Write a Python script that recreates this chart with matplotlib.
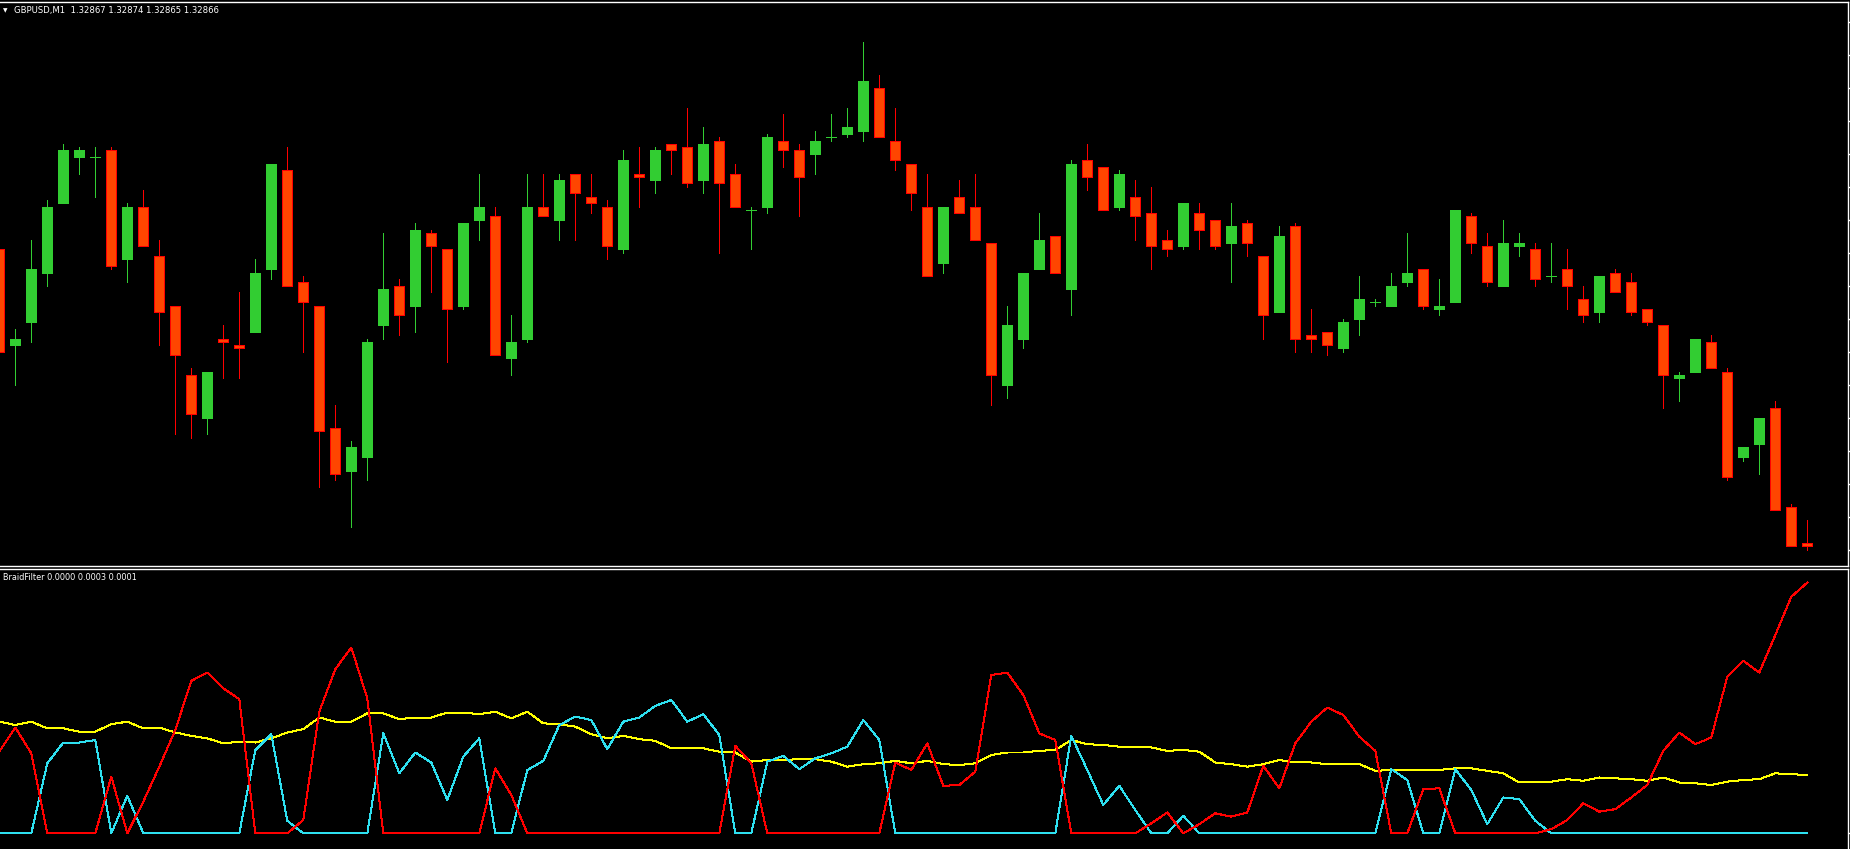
import matplotlib
matplotlib.use("Agg")
import matplotlib.pyplot as plt
import numpy as np

# ---------------- data ----------------
symbol_label = "GBPUSD,M1"
last_ohlc_text = ["1.32867", "1.32874", "1.32865", "1.32866"]
indicator_name = "BraidFilter"
indicator_values_text = ["0.0000", "0.0003", "0.0001"]

# prices in points (1 point = 0.00001)
open_pts = [
    132956, 132927, 132934, 132949, 132970, 132984, 132984, 132986, 132953, 132969,
    132954, 132939, 132918, 132905, 132929, 132927, 132931, 132950, 132980, 132946,
    132939, 132902, 132889, 132893, 132933, 132945, 132939, 132961, 132956, 132939,
    132965, 132966, 132923, 132929, 132969, 132965, 132979, 132972, 132969, 132956,
    132979, 132977, 132988, 132987, 132977, 132989, 132979, 132968, 132969, 132989,
    132986, 132985, 132990, 132991, 132992, 133005, 132989, 132982, 132969, 132952,
    132972, 132969, 132958, 132915, 132929, 132950, 132960, 132944, 132983, 132981,
    132969, 132972, 132967, 132959, 132957, 132967, 132965, 132958, 132964, 132954,
    132937, 132963, 132930, 132931, 132926, 132935, 132940, 132939, 132946, 132950,
    132938, 132940, 132966, 132957, 132945, 132957, 132956, 132948, 132950, 132941,
    132937, 132949, 132946, 132938, 132933, 132917, 132919, 132928, 132919, 132893,
    132897, 132908, 132878, 132867,
]
high_pts = [
    132956, 132932, 132959, 132971, 132988, 132987, 132987, 132987, 132970, 132974,
    132959, 132939, 132920, 132919, 132933, 132943, 132953, 132982, 132987, 132948,
    132939, 132909, 132898, 132929, 132961, 132947, 132964, 132962, 132956, 132964,
    132979, 132969, 132936, 132979, 132979, 132979, 132979, 132979, 132971, 132986,
    132987, 132987, 132988, 132999, 132993, 132990, 132982, 132969, 132991, 132997,
    132988, 132992, 132997, 132999, 133019, 133009, 132999, 132982, 132979, 132969,
    132977, 132979, 132958, 132939, 132949, 132967, 132960, 132983, 132988, 132981,
    132980, 132977, 132975, 132962, 132970, 132970, 132965, 132970, 132965, 132954,
    132963, 132964, 132938, 132931, 132935, 132948, 132941, 132949, 132961, 132950,
    132947, 132968, 132967, 132961, 132965, 132961, 132958, 132958, 132956, 132945,
    132948, 132950, 132949, 132938, 132933, 132919, 132929, 132930, 132920, 132896,
    132905, 132910, 132879, 132874,
]
low_pts = [
    132925, 132915, 132928, 132945, 132970, 132979, 132972, 132950, 132946, 132957,
    132927, 132900, 132899, 132900, 132917, 132917, 132931, 132947, 132945, 132925,
    132884, 132886, 132872, 132886, 132929, 132930, 132931, 132943, 132922, 132938,
    132959, 132924, 132918, 132928, 132966, 132959, 132959, 132967, 132953, 132955,
    132969, 132973, 132979, 132975, 132973, 132955, 132969, 132956, 132967, 132981,
    132966, 132979, 132989, 132990, 132989, 132990, 132980, 132968, 132948, 132949,
    132967, 132959, 132909, 132911, 132926, 132950, 132949, 132936, 132974, 132968,
    132968, 132959, 132950, 132954, 132956, 132956, 132956, 132946, 132954, 132929,
    132937, 132925, 132925, 132924, 132925, 132930, 132939, 132939, 132945, 132938,
    132936, 132940, 132955, 132945, 132945, 132954, 132945, 132946, 132938, 132934,
    132934, 132943, 132936, 132933, 132908, 132910, 132919, 132920, 132886, 132892,
    132888, 132877, 132866, 132865,
]
close_pts = [
    132925, 132929, 132950, 132969, 132986, 132986, 132984, 132951, 132969, 132957,
    132937, 132924, 132906, 132919, 132928, 132926, 132949, 132982, 132945, 132940,
    132901, 132888, 132896, 132928, 132944, 132936, 132962, 132957, 132938, 132964,
    132969, 132924, 132928, 132969, 132966, 132977, 132973, 132970, 132957, 132983,
    132978, 132986, 132986, 132976, 132988, 132976, 132969, 132968, 132990, 132986,
    132978, 132989, 132990, 132993, 133007, 132990, 132983, 132973, 132948, 132969,
    132967, 132959, 132918, 132933, 132949, 132959, 132949, 132982, 132978, 132968,
    132979, 132966, 132957, 132956, 132970, 132962, 132957, 132963, 132958, 132936,
    132960, 132929, 132929, 132927, 132934, 132941, 132940, 132945, 132949, 132939,
    132939, 132968, 132958, 132946, 132958, 132958, 132947, 132948, 132945, 132936,
    132948, 132943, 132937, 132934, 132918, 132918, 132929, 132920, 132887, 132896,
    132905, 132877, 132866, 132866,
]

# BraidFilter buffers, in points
braid_red = [
    9.8, 12.7, 9.6, 0, 0, 0, 0, 6.8, 0, 3.8,
    8.0, 12.4, 18.3, 19.3, 17.4, 16.1, 0, 0, 0, 1.6,
    14.6, 19.7, 22.3, 16.2, 0, 0, 0, 0, 0, 0,
    0, 7.8, 4.6, 0, 0, 0, 0, 0, 0, 0,
    0, 0, 0, 0, 0, 0, 10.5, 8.4, 0, 0,
    0, 0, 0, 0, 0, 0, 8.5, 7.6, 10.8, 5.7,
    5.8, 7.4, 19.0, 19.3, 16.6, 12.0, 11.2, 0, 0, 0,
    0, 0, 1.2, 2.5, 0, 1.1, 2.4, 2.0, 2.5, 8.1,
    5.4, 10.8, 13.4, 15.1, 14.2, 11.6, 9.9, 0, 0, 5.3,
    5.4, 0, 0, 0, 0, 0, 0, 0.5, 1.6, 3.6,
    2.6, 2.9, 4.3, 5.8, 9.9, 12.1, 10.7, 11.5, 18.8, 20.7,
    19.3, 23.8, 28.4, 30.1,
]
braid_cyan = [
    0, 0, 0, 8.4, 10.9, 10.9, 11.2, 0, 4.5, 0,
    0, 0, 0, 0, 0, 0, 10.0, 11.9, 1.5, 0,
    0, 0, 0, 0, 12.0, 7.2, 9.7, 8.5, 4.0, 9.2,
    11.4, 0, 0, 7.6, 8.7, 13.0, 14.0, 13.6, 10.1, 13.4,
    13.9, 15.3, 16.0, 13.4, 14.3, 11.8, 0, 0, 8.6, 9.3,
    7.7, 9.0, 9.6, 10.4, 13.6, 11.2, 0, 0, 0, 0,
    0, 0, 0, 0, 0, 0, 0, 11.7, 7.6, 3.4,
    5.7, 2.8, 0, 0, 2.1, 0, 0, 0, 0, 0,
    0, 0, 0, 0, 0, 0, 0, 7.7, 6.4, 0,
    0, 7.7, 5.2, 1.1, 4.3, 4.1, 1.5, 0, 0, 0,
    0, 0, 0, 0, 0, 0, 0, 0, 0, 0,
    0, 0, 0, 0,
]
braid_yellow = [
    13.4, 13.0, 13.4, 12.6, 12.6, 12.2, 12.2, 13.1, 13.4, 12.6,
    12.7, 12.1, 11.7, 11.4, 10.8, 11.0, 10.9, 11.4, 12.1, 12.5,
    13.9, 13.4, 13.4, 14.4, 14.4, 13.7, 13.9, 13.9, 14.5, 14.5,
    14.3, 14.6, 13.8, 14.6, 13.2, 13.1, 12.8, 11.9, 11.4, 11.7,
    11.3, 11.1, 10.2, 10.2, 10.2, 9.8, 9.7, 8.6, 8.8, 8.8,
    8.9, 8.9, 8.6, 8.0, 8.3, 8.4, 8.7, 8.4, 8.7, 8.3,
    8.2, 8.4, 9.4, 9.7, 9.7, 9.9, 10.0, 11.2, 10.7, 10.6,
    10.4, 10.4, 10.3, 9.9, 10.0, 9.8, 8.5, 8.3, 8.0, 8.3,
    8.8, 8.5, 8.5, 8.3, 8.3, 8.3, 7.5, 7.6, 7.6, 7.6,
    7.6, 7.8, 7.8, 7.5, 7.2, 6.1, 6.1, 6.2, 6.5, 6.3,
    6.7, 6.6, 6.5, 6.3, 6.7, 6.1, 6.0, 5.8, 6.2, 6.4,
    6.5, 7.2, 7.1, 7.0,
]

# ---------------- styling ----------------
W, H = 1850, 849
BG = "#000000"
FG = "#FFFFFF"
BULL_FILL = "#32CD32"
BULL_EDGE = "#32CD32"
BEAR_FILL = "#FF4500"
BEAR_EDGE = "#FF0000"
PX = 0.72  # one pixel in points at dpi 100

POINT = 1e-5
o = np.array(open_pts) * POINT
h = np.array(high_pts) * POINT
l = np.array(low_pts) * POINT
c = np.array(close_pts) * POINT
x = np.arange(len(o))

fig = plt.figure(figsize=(W / 100, H / 100), dpi=100, facecolor=BG)


def fx(px):
    return px / W


def fy(py):
    return 1 - py / H


# main price pane
top_py, bot_py, right_px = 2, 566, 1848
ax = fig.add_axes([0, fy(bot_py), fx(right_px), (bot_py - top_py) / H])
ax.set_facecolor(BG)

# bar spacing: 16 px per bar, bar 0 centred at x = -0.7 px
ax.set_xlim(0.7 / 16, (right_px + 0.7) / 16)
price_per_px = POINT / 3.3
ref_price = 1.32866
ref_py = 546.5
ax.set_ylim(ref_price - (bot_py - ref_py) * price_per_px,
            ref_price + (ref_py - top_py) * price_per_px)

bull = c >= o
wick_colors = np.where(bull, BULL_EDGE, BEAR_EDGE)
ax.vlines(x, l, h, colors=wick_colors, linewidth=PX, zorder=2, antialiased=False)

body_w = 0.64
bottoms = np.minimum(o, c)
heights = np.abs(c - o)
ax.bar(x[bull], heights[bull], bottom=bottoms[bull], width=body_w,
       color=BULL_FILL, edgecolor=BULL_EDGE, linewidth=PX, zorder=3, antialiased=False)
ax.bar(x[~bull], heights[~bull], bottom=bottoms[~bull], width=body_w,
       color=BEAR_FILL, edgecolor=BEAR_EDGE, linewidth=PX, zorder=3, antialiased=False)

ax.spines["left"].set_visible(False)
for side in ["top", "right", "bottom"]:
    ax.spines[side].set_color(FG)
    ax.spines[side].set_linewidth(1.4 * PX)

ax.set_xticks([])
price_ticks = [1.32865 + 0.0001 * k for k in range(17)]
ax.set_yticks(price_ticks)
ax.yaxis.tick_right()
ax.tick_params(axis="y", direction="out", length=2 * PX, width=1.4 * PX,
               colors=FG, labelright=False, labelleft=False)

# indicator pane
ind_top_py = 569
ax2 = fig.add_axes([0, 0, fx(right_px), (H - ind_top_py) / H])
ax2.set_facecolor(BG)
ax2.set_xlim(ax.get_xlim())
zero_py = 833.3
val_per_px = POINT / 8.33
ax2.set_ylim(-(H - zero_py) * val_per_px, (zero_py - ind_top_py) * val_per_px)

xi = np.arange(len(braid_red))
ax2.plot(xi, np.array(braid_yellow) * POINT, color="#FFFF00", linewidth=PX,
         antialiased=False, zorder=2)
ax2.plot(xi, np.array(braid_cyan) * POINT, color="#2EE0F0", linewidth=PX,
         antialiased=False, zorder=3)
ax2.plot(xi, np.array(braid_red) * POINT, color="#FF0000", linewidth=PX,
         antialiased=False, zorder=4)

for side in ["left", "bottom"]:
    ax2.spines[side].set_visible(False)
for side in ["top", "right"]:
    ax2.spines[side].set_color(FG)
    ax2.spines[side].set_linewidth(1.4 * PX)
ax2.set_xticks([])
ax2.set_yticks([0.0])
ax2.yaxis.tick_right()
ax2.tick_params(axis="y", direction="out", length=2 * PX, width=1.4 * PX,
                colors=FG, labelright=False, labelleft=False)

# texts
fig.text(fx(2.5), fy(10.5), "\u25BC", color=FG, fontsize=4.2,
         ha="left", va="center", family="DejaVu Sans")
fig.text(fx(14), fy(11), symbol_label + "  " + " ".join(last_ohlc_text),
         color=FG, fontsize=6.1, ha="left", va="center", family="DejaVu Sans")
fig.text(fx(3), fy(577.5), indicator_name + " " + " ".join(indicator_values_text),
         color=FG, fontsize=5.9, ha="left", va="center", family="DejaVu Sans")

fig.savefig("out.png", dpi=100, facecolor=BG)
